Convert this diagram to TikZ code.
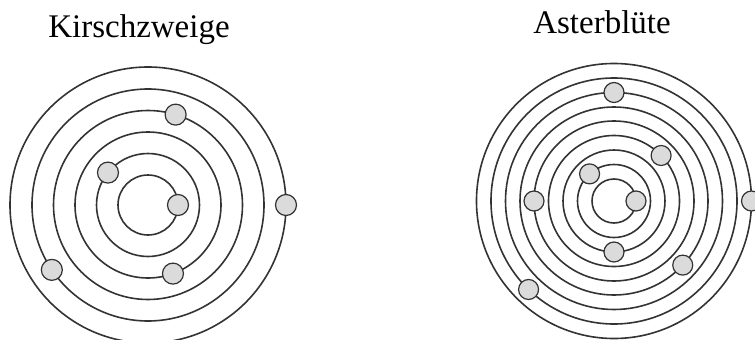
\documentclass[tikz,border=0pt]{standalone}
\usepackage{fontspec}
\setmainfont{Liberation Serif}
\usetikzlibrary{calc}
\begin{document}
\begin{tikzpicture}[x=1pt,y=-1pt,
  ring/.style={draw=black!80,line width=1.6pt},
  bead/.style={circle,draw=black!80,line width=1.2pt,fill=black!14,minimum size=21pt,inner sep=0pt},
  title/.style={anchor=base,font=\fontsize{33}{40}\selectfont}]
\useasboundingbox (0,0) rectangle (755,340);
\clip (0,0) rectangle (755,340);
\node[title] (t1) at (139,37) {Kirschzweige};
\node[title] (t2) at (602,33) {Asterblüte};
% left spiral
\coordinate (c1) at (148,205);
\foreach \r in {30,51.5,73,94.5,116,138}{\draw[ring] (c1) circle[radius=\r];}
\foreach \n/\a/\r in {a/0/30,b/-141/51.5,c/70/73,d/-73/94.5,e/146/116,f/0/138}{
  \node[bead] (k\n) at ($(c1)+(\a:\r)$) {};}
% right spiral
\coordinate (c2) at (614,201);
\foreach \r in {22,36.5,51,65.5,80,94,108.5,123,137.5}{\draw[ring] (c2) circle[radius=\r];}
\foreach \n/\a/\r in {a/0/22,b/-132/36.5,c/90/51,d/-44/65.5,e/180/80,f/43/94,g/-90/108.5,h/134/123,i/0/137.5}{
  \node[bead,minimum size=20pt] (s\n) at ($(c2)+(\a:\r)$) {};}
\end{tikzpicture}
\end{document}
